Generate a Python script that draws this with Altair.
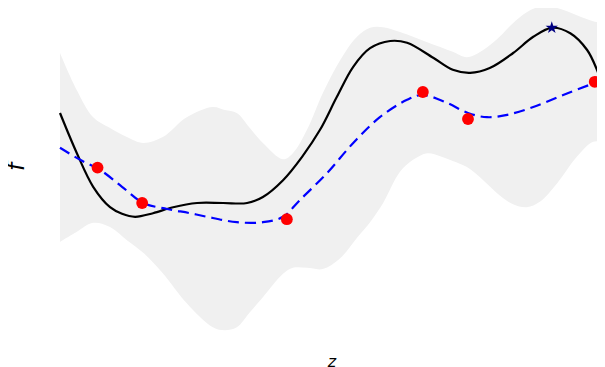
import altair as alt
import pandas as pd

# true objective (black solid line)
z_true = [0.00, 0.31, 0.61, 0.92, 1.14, 1.38, 1.71, 2.08, 2.52, 3.00, 3.44, 3.73, 4.10,
          4.45, 4.78, 5.09, 5.39, 5.70, 6.07, 6.38, 6.86, 7.22, 7.54, 7.90, 8.33, 8.70,
          9.04, 9.38, 9.69, 9.87, 10.00]
f_true = [1.00, 0.33, -0.23, -0.57, -0.68, -0.73, -0.67, -0.57, -0.50, -0.50, -0.50, -0.40, -0.12,
          0.27, 0.72, 1.27, 1.77, 2.08, 2.20, 2.17, 1.92, 1.72, 1.67, 1.75, 2.00, 2.27,
          2.42, 2.33, 2.05, 1.72, 1.35]

# posterior mean (blue dashed line)
z_mean = [0.00, 0.37, 0.74, 1.14, 1.53, 1.97, 2.39, 2.81, 3.25, 3.73, 4.10, 4.41, 4.91,
          5.39, 5.88, 6.38, 6.67, 7.11, 7.50, 7.85, 8.22, 8.70, 9.25, 9.83, 10.00]
f_mean = [0.42, 0.22, 0.05, -0.23, -0.50, -0.60, -0.67, -0.75, -0.82, -0.82, -0.73, -0.45, 0.00,
          0.50, 0.93, 1.22, 1.30, 1.17, 1.00, 0.93, 0.97, 1.10, 1.30, 1.50, 1.55]

# confidence band (grey)
z_band = [0.00, 0.31, 0.61, 0.92, 1.23, 1.53, 1.89, 2.33, 2.81, 3.03, 3.25, 3.49, 3.73, 4.10,
          4.28, 4.54, 4.83, 5.15, 5.46, 5.70, 5.94, 6.25, 6.49, 6.75, 6.99, 7.22, 7.48,
          7.78, 8.09, 8.33, 8.58, 8.82, 9.14, 9.50, 9.80, 10.00]
f_upper = [2.00, 1.38, 0.93, 0.75, 0.60, 0.50, 0.60, 0.93, 1.10, 1.05, 1.00, 0.75, 0.50, 0.23,
           0.33, 0.72, 1.33, 1.88, 2.27, 2.42, 2.43, 2.35, 2.27, 2.18, 2.10, 2.02, 1.93,
           2.05, 2.28, 2.50, 2.68, 2.77, 2.75, 2.63, 2.53, 2.50]
f_lower = [-1.15, -0.98, -0.83, -0.90, -1.12, -1.33, -1.67, -2.17, -2.57, -2.62, -2.57, -2.32, -2.07, -1.68,
           -1.58, -1.58, -1.60, -1.42, -1.08, -0.82, -0.50, 0.02, 0.22, 0.33, 0.28, 0.20, 0.10,
           -0.12, -0.38, -0.52, -0.57, -0.48, -0.17, 0.27, 0.52, 0.52]

# observations (red dots)
z_obs = [0.69, 1.51, 4.17, 6.67, 7.50, 9.83]
f_obs = [0.09, -0.50, -0.77, 1.35, 0.90, 1.52]

# maximum (navy star)
z_best = [9.04]
f_best = [2.42]

# axis labels
x_label = ["z"]
y_label = ["f"]

true_df = pd.DataFrame({"z": z_true, "f": f_true})
mean_df = pd.DataFrame({"z": z_mean, "f": f_mean})
band_df = pd.DataFrame({"z": z_band, "upper": f_upper, "lower": f_lower})
obs_df = pd.DataFrame({"z": z_obs, "f": f_obs})
best_df = pd.DataFrame({"z": z_best, "f": f_best})

STAR = ("M0,-1L0.225,-0.309L0.951,-0.309L0.363,0.118L0.588,0.809L0,0.382"
        "L-0.588,0.809L-0.363,0.118L-0.951,-0.309L-0.225,-0.309Z")

PLOT_W = 537          # visible plot width (page is narrower than the full z range)
PX_PER_Z = 54.4
xscale = alt.Scale(domain=[0, PLOT_W / PX_PER_Z], nice=False, zero=False)
yscale = alt.Scale(domain=[-2.75, 2.75], nice=False, zero=False)

X = alt.X("z:Q", scale=xscale, axis=None)
Y = alt.Y("f:Q", scale=yscale, axis=None)

band = alt.Chart(band_df).mark_area(color="#f0f0f0", opacity=1, interpolate="catmull-rom").encode(
    x=X, y=alt.Y("upper:Q", scale=yscale, axis=None), y2="lower:Q")

true_line = alt.Chart(true_df).mark_line(color="black", strokeWidth=2.2,
                                         interpolate="catmull-rom").encode(x=X, y=Y)

mean_line = alt.Chart(mean_df).mark_line(color="blue", strokeWidth=2.2, strokeDash=[11, 6],
                                         interpolate="catmull-rom").encode(x=X, y=Y)

obs = alt.Chart(obs_df).mark_point(shape="circle", filled=True, size=140, color="red",
                                   opacity=1).encode(x=X, y=Y)

best = alt.Chart(best_df).mark_point(shape=STAR, filled=True, size=170, color="#000080",
                                     opacity=1).encode(x=X, y=Y)

xtitle = alt.Chart(pd.DataFrame({"t": x_label})).mark_text(
    font="DejaVu Sans", fontStyle="italic", fontSize=16, color="black",
    align="center", baseline="alphabetic").encode(
    x=alt.value(272), y=alt.value(358.5), text="t:N")

ytitle = alt.Chart(pd.DataFrame({"t": y_label})).mark_text(
    font="DejaVu Sans", fontStyle="italic", fontSize=23, color="black",
    align="center", baseline="middle", angle=270).encode(
    x=alt.value(-43), y=alt.value(159), text="t:N")

chart = alt.layer(band, true_line, mean_line, obs, best, xtitle, ytitle).properties(
    width=PLOT_W, height=330,
    autosize=alt.AutoSizeParams(type="none"),
    padding={"left": 52, "top": 0, "right": 0, "bottom": 29},
    background="white",
).configure_view(stroke=None)

chart.save("out.html", embed_options={"renderer": "svg", "actions": False})
